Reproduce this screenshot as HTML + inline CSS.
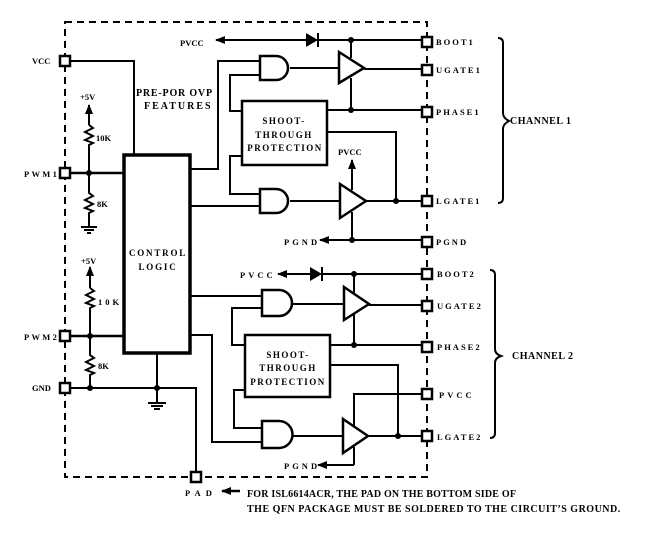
<!DOCTYPE html>
<html><head><meta charset="utf-8"><style>
html,body{margin:0;padding:0;background:#fff;width:651px;height:546px;overflow:hidden}
svg{display:block}
text{font-family:"Liberation Serif",serif;font-weight:bold;fill:#000}
</style></head><body>
<svg width="651" height="546" viewBox="0 0 651 546" xmlns="http://www.w3.org/2000/svg">
<defs>
<marker id="ah" markerWidth="10" markerHeight="8" refX="9" refY="4" orient="auto-start-reverse" markerUnits="userSpaceOnUse">
<path d="M10,4 L0,0 L0,8 z" fill="#000"/></marker>
</defs>
<g fill="none" stroke="#000" stroke-width="2">
<rect x="65" y="22" width="362" height="455" stroke-dasharray="7,5"/>
</g>
<g fill="#fff" stroke="#000" stroke-width="2.5">
<rect x="60" y="56" width="10" height="10"/>
<rect x="60" y="168" width="10" height="10"/>
<rect x="60" y="331" width="10" height="10"/>
<rect x="60" y="383" width="10" height="10"/>
<rect x="191" y="472" width="10" height="10"/>
<rect x="422" y="37" width="10" height="10"/>
<rect x="422" y="65" width="10" height="10"/>
<rect x="422" y="107" width="10" height="10"/>
<rect x="422" y="196" width="10" height="10"/>
<rect x="422" y="237" width="10" height="10"/>
<rect x="422" y="269" width="10" height="10"/>
<rect x="422" y="301" width="10" height="10"/>
<rect x="422" y="342" width="10" height="10"/>
<rect x="422" y="389" width="10" height="10"/>
<rect x="422" y="431" width="10" height="10"/>
</g>
<g fill="none" stroke="#000" stroke-width="2">
<rect x="124" y="155" width="66" height="198" stroke-width="3.5"/>
<polyline points="70,61 134,61 134,155"/>
<line x1="70" y1="173" x2="124" y2="173" stroke-width="2.5"/>
<line x1="70" y1="336" x2="124" y2="336" stroke-width="2.5"/>
<line x1="89" y1="105" x2="89" y2="125" marker-start="url(#ah)"/>
<polyline points="89,125 93,128 85,132 93,136 85,140 93,143 89,145 89,193 93,196 85,200 93,204 85,208 93,211 89,213 89,227"/>
<line x1="81" y1="227" x2="97" y2="227"/><line x1="84" y1="230" x2="94" y2="230"/><line x1="87" y1="233" x2="91" y2="233"/>
<line x1="90" y1="267" x2="90" y2="288" marker-start="url(#ah)"/>
<polyline points="90,288 94,291 86,295 94,299 86,303 94,306 90,308 90,355 94,358 86,362 94,366 86,370 94,373 90,375 90,388"/>
<polyline points="70,388 196,388 196,472"/>
<line x1="157" y1="353" x2="157" y2="403"/>
<line x1="148" y1="403" x2="166" y2="403"/><line x1="151" y1="406" x2="163" y2="406"/><line x1="154" y1="409" x2="160" y2="409"/>

<line x1="216" y1="40" x2="306" y2="40" marker-start="url(#ah)"/>
<line x1="318" y1="40" x2="422" y2="40"/>
<line x1="318" y1="33" x2="318" y2="47"/>
<polyline points="190,169 218,169 218,61 260,61"/>
<polyline points="260,75 230,75 230,111 242,111"/>
<rect x="242" y="101" width="85" height="64" stroke-width="2.5"/>
<polyline points="242,156 230,156 230,194 260,194"/>
<line x1="190" y1="206" x2="260" y2="206"/>
<path d="M260,56 h16 a12,12 0 0 1 0,24 h-16 z" stroke-width="2.5"/>
<path d="M260,189 h16 a12,12 0 0 1 0,24 h-16 z" stroke-width="2.5"/>
<line x1="290" y1="68" x2="339" y2="68"/>
<path d="M339,52 L364,68 L339,83 z" stroke-width="2.5"/>
<line x1="364" y1="69" x2="422" y2="69"/>
<line x1="351" y1="40" x2="351" y2="58"/>
<line x1="351" y1="78" x2="351" y2="110"/>
<line x1="327" y1="110" x2="422" y2="110"/>
<polyline points="327,132 396,132 396,201"/>
<line x1="290" y1="201" x2="340" y2="201"/>
<path d="M340,184 L366,201 L340,218 z" stroke-width="2.5"/>
<line x1="366" y1="201" x2="422" y2="201"/>
<line x1="352" y1="160" x2="352" y2="190" marker-start="url(#ah)"/>
<line x1="352" y1="212" x2="352" y2="240"/>
<line x1="320" y1="240" x2="422" y2="240" marker-start="url(#ah)"/>
<path d="M498,38 q5,0 5,5 v70 q0,5 6,8 q-6,3 -6,8 v69 q0,5 -5,5"/>

<line x1="278" y1="274" x2="310" y2="274" marker-start="url(#ah)"/>
<line x1="322" y1="274" x2="422" y2="274"/>
<line x1="322" y1="267" x2="322" y2="281"/>
<line x1="190" y1="296" x2="262" y2="296"/>
<polyline points="262,308 232,308 232,345 245,345"/>
<rect x="245" y="335" width="85" height="62" stroke-width="2.5"/>
<polyline points="245,390 234,390 234,428 262,428"/>
<polyline points="190,335 212,335 212,442 262,442"/>
<path d="M262,290 h17 a13,13 0 0 1 0,26 h-17 z" stroke-width="2.5"/>
<path d="M262,421 h17 a13,13 0 0 1 0,27 h-17 z" stroke-width="2.5"/>
<line x1="292" y1="304" x2="344" y2="304"/>
<path d="M344,287 L369,304 L344,320 z" stroke-width="2.5"/>
<line x1="369" y1="305" x2="422" y2="305"/>
<line x1="354" y1="274" x2="354" y2="294"/>
<line x1="354" y1="314" x2="354" y2="345"/>
<line x1="330" y1="345" x2="422" y2="345"/>
<polyline points="330,365 398,365 398,436"/>
<polyline points="422,394 354,394 354,426"/>
<line x1="292" y1="436" x2="343" y2="436"/>
<path d="M343,419 L368,436 L343,453 z" stroke-width="2.5"/>
<line x1="368" y1="436" x2="422" y2="436"/>
<line x1="354" y1="447" x2="354" y2="465"/>
<line x1="318" y1="465" x2="354" y2="465" marker-start="url(#ah)"/>
<path d="M490,270 q5,0 5,5 v74 q0,5 6,7 q-6,2 -6,7 v70 q0,5 -5,5"/>
<line x1="222" y1="491" x2="240" y2="491" marker-start="url(#ah)" stroke-width="2.5"/>
</g>
<g fill="#000">
<circle cx="89" cy="173" r="3"/><circle cx="90" cy="336" r="3"/><circle cx="90" cy="388" r="3"/><circle cx="157" cy="388" r="3"/>
<circle cx="351" cy="40" r="3"/><circle cx="351" cy="110" r="3"/><circle cx="396" cy="201" r="3"/><circle cx="352" cy="240" r="3"/>
<circle cx="354" cy="274" r="3"/><circle cx="354" cy="345" r="3"/><circle cx="398" cy="436" r="3"/>
<path d="M306,33 L318,40 L306,47 z"/><path d="M310,267 L322,274 L310,281 z"/>
</g>
<g font-size="8.5">
<text x="32" y="64">VCC</text>
<text x="32" y="391">GND</text>
<text x="24" y="177" letter-spacing="2.3">PWM1</text>
<text x="24" y="340" letter-spacing="2.3">PWM2</text>
<text x="180" y="46">PVCC</text>
<text x="338" y="155">PVCC</text>
<text x="80" y="100">+5V</text>
<text x="81" y="264">+5V</text>
<text x="96" y="141">10K</text>
<text x="97" y="207">8K</text>
<text x="98" y="305" letter-spacing="3">10K</text>
<text x="98" y="369">8K</text>
<text x="284" y="245" letter-spacing="3">PGND</text>
<text x="284" y="469" letter-spacing="3">PGND</text>
<text x="240" y="278" letter-spacing="3">PVCC</text>
<text x="185" y="496" letter-spacing="5">PAD</text>
<text x="436" y="45" letter-spacing="2">BOOT1</text>
<text x="436" y="73" letter-spacing="2">UGATE1</text>
<text x="436" y="115" letter-spacing="2">PHASE1</text>
<text x="436" y="204" letter-spacing="2">LGATE1</text>
<text x="436" y="245" letter-spacing="2">PGND</text>
<text x="437" y="277" letter-spacing="2">BOOT2</text>
<text x="437" y="309" letter-spacing="2">UGATE2</text>
<text x="437" y="350" letter-spacing="2">PHASE2</text>
<text x="439" y="398" letter-spacing="3">PVCC</text>
<text x="437" y="440" letter-spacing="2">LGATE2</text>
</g>
<g font-size="9" letter-spacing="1.5" text-anchor="middle">
<text x="284" y="124">SHOOT-</text>
<text x="284" y="138">THROUGH</text>
<text x="285" y="151">PROTECTION</text>
<text x="288" y="358">SHOOT-</text>
<text x="288" y="371">THROUGH</text>
<text x="288" y="385">PROTECTION</text>
<text x="158" y="256" letter-spacing="1.8">CONTROL</text>
<text x="158" y="270" letter-spacing="1.8">LOGIC</text>
</g>
<g font-size="10">
<text x="136" y="96" letter-spacing="0.8">PRE-POR OVP</text>
<text x="144" y="109" letter-spacing="2">FEATURES</text>
<text x="510" y="124" letter-spacing="0.5">CHANNEL 1</text>
<text x="512" y="359" letter-spacing="0.5">CHANNEL 2</text>
<text x="247" y="497" letter-spacing="0.2">FOR ISL6614ACR, THE PAD ON THE BOTTOM SIDE OF</text>
<text x="247" y="512" letter-spacing="0.5">THE QFN PACKAGE MUST BE SOLDERED TO THE CIRCUIT’S GROUND.</text>
</g>
</svg>
</body></html>
